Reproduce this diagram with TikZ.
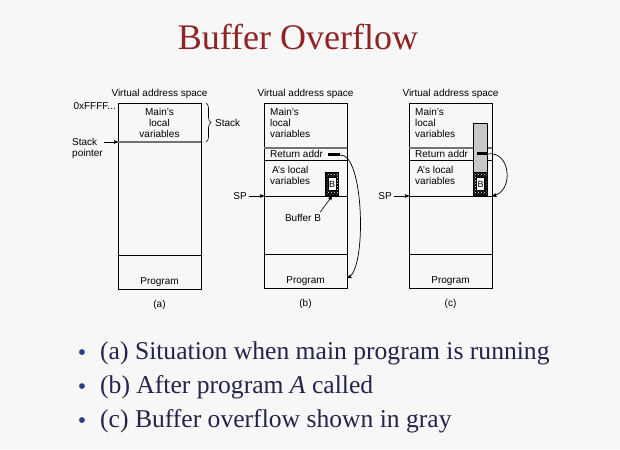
\documentclass[tikz,border=0pt]{standalone}
\usepackage{fontspec}
\setmainfont{Liberation Serif}
\setsansfont{Liberation Sans}
\usetikzlibrary{arrows, positioning, patterns, decorations.pathreplacing}
\definecolor{bgray}{HTML}{F7F7F7}
\definecolor{titlered}{HTML}{8E2424}
\definecolor{bullettext}{HTML}{24244A}
\definecolor{bulletdot}{HTML}{2A3C82}

\begin{document}
\begin{tikzpicture}[x=1pt, y=-1pt, >=stealth']
    \tikzstyle{seg} = [draw, line width=0.8pt, minimum width=83pt, inner sep=0pt, outer sep=0pt]
    \tikzstyle{lbl} = [font=\sffamily\fontsize{10}{11}\selectfont, inner sep=2pt]
    \tikzstyle{ptr} = [->, line width=0.6pt]
    \tikzstyle{ruleline} = [line width=1.6pt, black!55]
    \tikzstyle{buf} = [draw, line width=0.8pt, preaction={fill=black}, pattern=crosshatch dots, pattern color=white, minimum width=13pt, minimum height=23pt, inner sep=0pt]
    \tikzstyle{bin} = [draw, fill=white, font=\sffamily\fontsize{9}{9}\selectfont, minimum width=8pt, minimum height=13pt, inner sep=0pt]
    \tikzstyle{retbar} = [fill=black, minimum height=3pt, inner sep=0pt]
    \tikzstyle{bul} = [font=\rmfamily\fontsize{25.6}{30}\selectfont, text=bullettext, inner sep=0pt]
    \tikzstyle{dotb} = [font=\rmfamily\fontsize{24}{24}\selectfont, text=bulletdot, inner sep=0pt]

    \fill[bgray] (0,0) rectangle (620,449);
    \useasboundingbox (0,0) rectangle (620,449);

    \node[font=\rmfamily\fontsize{36}{40}\selectfont, text=titlered, anchor=base] (title) at (298,50) {Buffer Overflow};

    % (a) main program running
    \node[seg, minimum height=39pt, anchor=north west] (amain) at (118,103) {};
    \node[seg, minimum height=113pt, below=0pt of amain] (afree) {};
    \node[seg, minimum height=34pt, below=0pt of afree] (aprog) {};
    \draw[ruleline] (amain.south west) -- (amain.south east);
    \node[lbl, anchor=base] (avas) at ([yshift=6pt]amain.north) {Virtual address space};
    \node[lbl, anchor=north, align=center] (amtxt) at ([yshift=-3pt]amain.north) {Main's\\local\\variables};
    \node[lbl, anchor=base] (aptxt) at ([yshift=5pt]aprog.south) {Program};
    \node[lbl, anchor=base] (acap) at ([yshift=-18pt]aprog.south) {(a)};
    \node[lbl, anchor=east] (ahex) at ([yshift=-3pt]amain.north west) {0xFFFF...};
    \node[lbl, anchor=north west, align=left, inner sep=1pt] (asp) at (71,137) {Stack\\pointer};
    \draw[ptr] (asp.east |- amain.south) -- (amain.south west);
    \draw[decorate, decoration={brace, amplitude=5pt}, line width=0.6pt]
        ([xshift=5pt]amain.north east) -- ([xshift=5pt]amain.south east);
    \node[lbl, anchor=west] (astack) at ([xshift=12pt]amain.east) {Stack};

    % (b) after A called
    \node[seg, minimum height=45pt, anchor=north west] (bmain) at (264,103) {};
    \node[seg, minimum height=12pt, below=0pt of bmain] (bret) {};
    \node[seg, minimum height=36pt, below=0pt of bret] (bas) {};
    \node[seg, minimum height=58pt, below=0pt of bas] (bfree) {};
    \node[seg, minimum height=34pt, below=0pt of bfree] (bprog) {};
    \draw[ruleline] (bmain.south west) -- (bmain.south east);
    \node[lbl, anchor=base] (bvas) at ([yshift=6pt]bmain.north) {Virtual address space};
    \node[lbl, anchor=north west, align=left] (bmtxt) at ([xshift=4pt, yshift=-3pt]bmain.north west) {Main's\\local\\variables};
    \node[lbl, anchor=west] (brtxt) at ([xshift=4pt]bret.west) {Return addr};
    \node[lbl, anchor=north west, align=center] (batxt) at ([xshift=4pt, yshift=-4pt]bas.north west) {A's local\\variables};
    \node[lbl, anchor=base] (bptxt) at ([yshift=5pt]bprog.south) {Program};
    \node[lbl, anchor=base] (bcap) at ([yshift=-18pt]bprog.south) {(b)};
    \node[buf, anchor=south east] (bbuf) at ([xshift=-8pt]bas.south east) {};
    \node[bin] (bbin) at (bbuf) {B};
    \node[retbar, minimum width=12pt] (bbar) at (334,155) {};
    \node[lbl, anchor=east] (bsp) at ([xshift=-15pt]bfree.north west) {SP};
    \draw[ptr] (bsp.east) -- (bfree.north west);
    \node[lbl] (bbtxt) at (303,218) {Buffer B};
    \draw[ptr] ([xshift=-3pt]bbtxt.north east) -- (bbuf.south);
    \draw[->, line width=0.7pt] (bbar.east) .. controls +(24,-2) and +(20,-8) .. ([yshift=-7pt]bprog.east);

    % (c) buffer overflow
    \node[seg, minimum height=45pt, anchor=north west] (cmain) at (409,103) {};
    \node[seg, minimum height=12pt, below=0pt of cmain] (cret) {};
    \node[seg, minimum height=36pt, below=0pt of cret] (cas) {};
    \node[seg, minimum height=58pt, below=0pt of cas] (cfree) {};
    \node[seg, minimum height=34pt, below=0pt of cfree] (cprog) {};
    \draw[ruleline] (cmain.south west) -- (cmain.south east);
    \node[lbl, anchor=base] (cvas) at ([yshift=6pt]cmain.north) {Virtual address space};
    \node[lbl, anchor=north west, align=left] (cmtxt) at ([xshift=4pt, yshift=-3pt]cmain.north west) {Main's\\local\\variables};
    \node[lbl, anchor=west] (crtxt) at ([xshift=4pt]cret.west) {Return addr};
    \node[lbl, anchor=north west, align=center] (catxt) at ([xshift=4pt, yshift=-4pt]cas.north west) {A's local\\variables};
    \node[lbl, anchor=base] (cptxt) at ([yshift=5pt]cprog.south) {Program};
    \node[lbl, anchor=base] (ccap) at ([yshift=-18pt]cprog.south) {(c)};
    \node[buf, minimum width=14pt, anchor=south east] (cbuf) at ([xshift=-4pt]cas.south east) {};
    \node[bin] (cbin) at (cbuf) {B};
    \node[draw, line width=0.6pt, fill=black!22, minimum width=14pt, minimum height=49pt, inner sep=0pt, anchor=south] (cgray) at (cbuf.north) {};
    \node[retbar, minimum width=10pt] (cbar) at (482,154) {};
    \node[lbl, anchor=east] (csp) at ([xshift=-15pt]cfree.north west) {SP};
    \draw[ptr] (csp.east) -- (cfree.north west);
    \draw[->, line width=0.7pt] (cbar.east) .. controls +(24,-4) and +(22,-4) .. (cfree.north east);

    % bullet list
    \node[dotb, anchor=base] (da) at (82,360) {•};
    \node[bul, anchor=base west] (ta) at (100,359) {(a) Situation when main program is running};
    \node[dotb, anchor=base] (db) at (82,394) {•};
    \node[bul, anchor=base west] (tb) at (100,393) {(b) After program \textit{A} called};
    \node[dotb, anchor=base] (dc) at (82,428) {•};
    \node[bul, anchor=base west] (tc) at (100,427) {(c) Buffer overflow shown in gray};
\end{tikzpicture}
\end{document}
